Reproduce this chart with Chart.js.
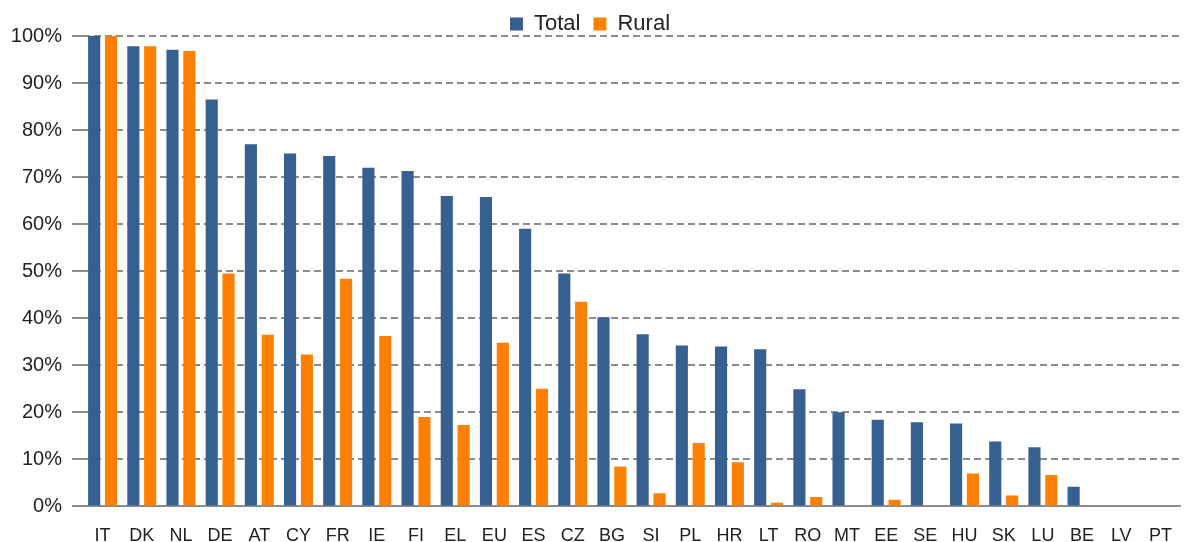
<!DOCTYPE html>
<html lang="en">
<head>
    <meta charset="UTF-8">
    <title>Total vs Rural</title>
    <script src="https://cdn.jsdelivr.net/npm/chart.js"></script>
    <style>
        body { margin: 0; padding: 0; background: #ffffff; overflow: hidden; }
        .wrap { width: 1201px; height: 568px; }
    </style>
</head>
<body>
    <div class="wrap"><canvas id="chart"></canvas></div>

    <script>
        const countries = ["IT", "DK", "NL", "DE", "AT", "CY", "FR", "IE", "FI", "EL", "EU", "ES", "CZ", "BG",
            "SI", "PL", "HR", "LT", "RO", "MT", "EE", "SE", "HU", "SK", "LU", "BE", "LV", "PT"];
        const total = [100, 97.8, 97.1, 86.5, 77, 75, 74.5, 72, 71.3, 66, 65.8, 59, 49.5, 40.2,
            36.6, 34.2, 34, 33.4, 24.9, 20, 18.4, 17.9, 17.6, 13.8, 12.6, 4.2, 0, 0];
        const rural = [100, 97.8, 96.8, 49.5, 36.5, 32.3, 48.4, 36.2, 19, 17.3, 34.8, 25, 43.5, 8.5,
            2.8, 13.5, 9.4, 0.8, 2, 0, 1.4, 0, 7, 2.3, 6.7, 0, 0, 0];
        const yTicks = [0, 10, 20, 30, 40, 50, 60, 70, 80, 90, 100];

        const FONT = "'Liberation Sans', Arial, sans-serif";

        // legend sits close above the 100% line, so trim its box a bit
        const tightLegend = {
            id: "tightLegend",
            beforeLayout(chart) {
                const lg = chart.legend;
                if (!lg || lg._tight) return;
                const fit = lg.fit;
                lg.fit = function () {
                    fit.call(this);
                    this.height -= 9;
                };
                lg._tight = true;
            }
        };

        new Chart(document.getElementById("chart"), {
            type: "bar",
            data: {
                labels: countries,
                datasets: [
                    { label: "Total", data: total, backgroundColor: "#36608F" },
                    { label: "Rural", data: rural, backgroundColor: "#FF8000" }
                ]
            },
            options: {
                responsive: true,
                maintainAspectRatio: false,
                animation: false,
                categoryPercentage: 0.86,
                barPercentage: 0.72,
                layout: { padding: { left: 0, right: 21, top: 0, bottom: 2 } },
                plugins: {
                    legend: {
                        position: "top",
                        labels: {
                            boxWidth: 13,
                            boxHeight: 13,
                            padding: 13,
                            color: "#222",
                            font: { family: FONT, size: 22 }
                        }
                    },
                    tooltip: { enabled: false }
                },
                scales: {
                    x: {
                        grid: { display: false, drawTicks: false },
                        border: { display: true, color: "#8c8c8c", width: 2 },
                        ticks: { color: "#222", padding: 19, font: { family: FONT, size: 18 } }
                    },
                    y: {
                        min: 0,
                        max: 100,
                        afterFit: axis => { axis.width = 83; },
                        afterBuildTicks: axis => { axis.ticks = yTicks.map(v => ({ value: v })); },
                        grid: {
                            color: "#8c8c8c",
                            lineWidth: 2,
                            tickLength: 11,
                            tickColor: "#8c8c8c"
                        },
                        border: { display: false, dash: [7, 4] },
                        ticks: {
                            color: "#222",
                            padding: 10,
                            font: { family: FONT, size: 20 },
                            callback: v => v + "%"
                        }
                    }
                }
            },
            plugins: [tightLegend]
        });
    </script>
</body>
</html>
